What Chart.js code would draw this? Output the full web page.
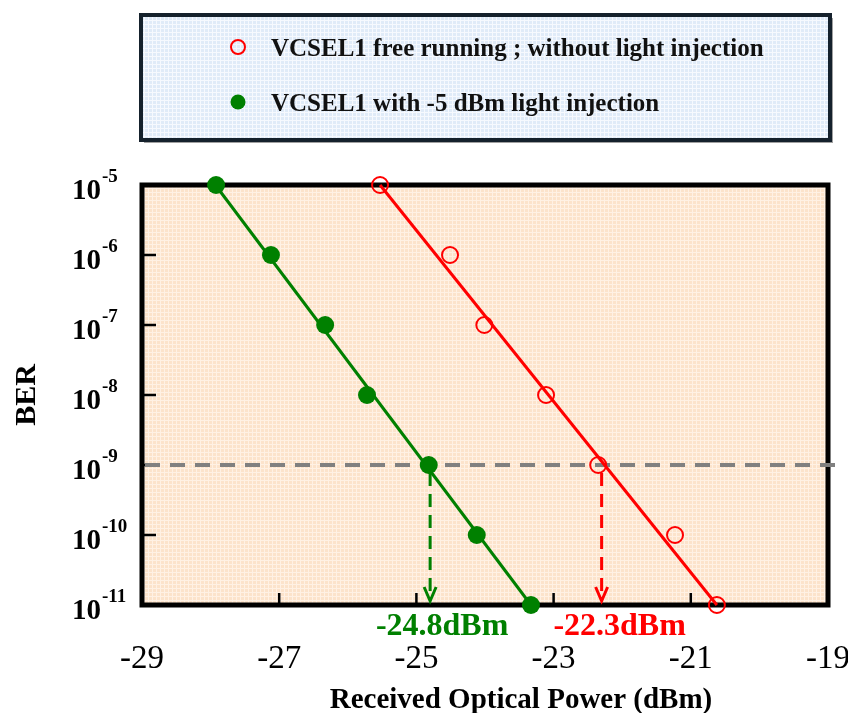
<!DOCTYPE html>
<html>
<head>
<meta charset="utf-8">
<script src="https://cdn.jsdelivr.net/npm/chart.js@4.4.1/dist/chart.umd.min.js"></script>
<style>
  html, body { margin: 0; padding: 0; background: #fff; }
</style>
</head>
<body>
<canvas id="berChart" width="848" height="713"></canvas>
<script>
// values
var legendLabels = ["VCSEL1 free running ; without light injection", "VCSEL1 with -5 dBm light injection"];
var berValues = [1e-5, 1e-6, 1e-7, 1e-8, 1e-9, 1e-10, 1e-11];
var freePower = [-25.53, -24.51, -24.01, -23.11, -22.35, -21.23, -20.62];
var injPower = [-27.92, -27.12, -26.33, -25.72, -24.82, -24.12, -23.33];
var fitBer = [1e-5, 1e-11];
var freeFit = [-25.53, -20.62];
var injFit = [-27.93, -23.33];
var xTicks = [-29, -27, -25, -23, -21, -19];
var yExponents = [-5, -6, -7, -8, -9, -10, -11];
var berLimit = 1e-9;
var sensitivity = [-24.8, -22.3];
var sensitivityLabels = ["-24.8dBm", "-22.3dBm"];

var GREEN = "#008000";
var RED = "#ff0000";
var SERIF = "'Liberation Serif', 'Times New Roman', serif";

function toPoints(xs, ys) {
	return xs.map(function(x, i) { return { x: x, y: ys[i] }; });
}

function makePattern(ctx, base, line) {
	var c = document.createElement("canvas");
	c.width = 4; c.height = 4;
	var p = c.getContext("2d");
	p.fillStyle = base;
	p.fillRect(0, 0, 4, 4);
	p.fillStyle = line;
	p.fillRect(0, 0, 4, 1);
	p.fillRect(0, 0, 1, 4);
	return ctx.createPattern(c, "repeat");
}

var decor = {
	id: "decor",
	beforeDraw: function(chart) {
		var ctx = chart.ctx, a = chart.chartArea;
		ctx.save();
		ctx.fillStyle = "#fff";
		ctx.fillRect(0, 0, chart.width, chart.height);

		// legend box
		ctx.fillStyle = "#a0a0a0";
		ctx.fillRect(144, 18, 689, 125);
		ctx.fillStyle = makePattern(ctx, "#e0ebf8", "#f6f9fe");
		ctx.fillRect(141, 15, 689, 125);
		ctx.strokeStyle = "#15212c";
		ctx.lineWidth = 4;
		ctx.strokeRect(141, 15, 689, 125);

		// plot background
		ctx.fillStyle = makePattern(ctx, "#fce3cb", "#fff1e4");
		ctx.fillRect(a.left, a.top, a.right - a.left, a.bottom - a.top);
		ctx.restore();
	},
	beforeDatasetsDraw: function(chart) {
		var ctx = chart.ctx, a = chart.chartArea;
		var xs = chart.scales.x, ys = chart.scales.y;
		ctx.save();

		// frame and inner ticks
		ctx.strokeStyle = "#000";
		ctx.lineWidth = 5;
		ctx.strokeRect(a.left, a.top, a.right - a.left, a.bottom - a.top);
		ctx.lineWidth = 2.5;
		ctx.beginPath();
		yExponents.slice(1, -1).forEach(function(e) {
			var y = ys.getPixelForValue(Math.pow(10, e));
			ctx.moveTo(a.left, y);
			ctx.lineTo(a.left + 14, y);
		});
		xTicks.slice(1, -1).forEach(function(v) {
			var x = xs.getPixelForValue(v);
			ctx.moveTo(x, a.bottom);
			ctx.lineTo(x, a.bottom - 12);
		});
		ctx.stroke();

		// BER limit
		var yl = ys.getPixelForValue(berLimit);
		ctx.strokeStyle = "#808080";
		ctx.lineWidth = 4;
		ctx.setLineDash([15, 10]);
		ctx.beginPath();
		ctx.moveTo(a.left + 3, yl);
		ctx.lineTo(838, yl);
		ctx.stroke();

		// sensitivity arrows
		[GREEN, RED].forEach(function(col, i) {
			var x = xs.getPixelForValue(sensitivity[i]);
			ctx.strokeStyle = col;
			ctx.lineWidth = 3;
			ctx.setLineDash([13, 8]);
			ctx.beginPath();
			ctx.moveTo(x, yl + 8);
			ctx.lineTo(x, a.bottom - 5);
			ctx.stroke();
			ctx.setLineDash([]);
			ctx.beginPath();
			ctx.moveTo(x - 6, a.bottom - 18);
			ctx.lineTo(x, a.bottom - 4);
			ctx.lineTo(x + 6, a.bottom - 18);
			ctx.stroke();
		});
		ctx.restore();
	},
	afterDraw: function(chart) {
		var ctx = chart.ctx, a = chart.chartArea;
		var xs = chart.scales.x, ys = chart.scales.y;
		ctx.save();
		ctx.fillStyle = "#000";
		ctx.textBaseline = "alphabetic";

		// y tick labels 10^n
		yExponents.forEach(function(e) {
			var y = ys.getPixelForValue(Math.pow(10, e));
			ctx.font = "bold 29px " + SERIF;
			ctx.textAlign = "left";
			ctx.fillText("10", 72, y + 14);
			var w = ctx.measureText("10").width;
			ctx.font = "bold 19px " + SERIF;
			ctx.fillText(String(e), 72 + w + 1, y - 3);
		});

		// x tick labels
		ctx.font = "33px " + SERIF;
		ctx.textAlign = "center";
		xTicks.forEach(function(v) {
			ctx.fillText(String(v), xs.getPixelForValue(v), 668);
		});

		// sensitivity labels
		ctx.font = "bold 32px " + SERIF;
		[GREEN, RED].forEach(function(col, i) {
			ctx.fillStyle = col;
			ctx.fillText(sensitivityLabels[i], xs.getPixelForValue(sensitivity[i]) + (i === 0 ? 12 : 18), 635);
		});

		// axis titles
		ctx.fillStyle = "#000";
		ctx.font = "bold 29px " + SERIF;
		ctx.fillText("Received Optical Power (dBm)", 521, 708);
		ctx.save();
		ctx.translate(35, (a.top + a.bottom) / 2);
		ctx.rotate(-Math.PI / 2);
		ctx.font = "bold 30px " + SERIF;
		ctx.fillText("BER", 0, 0);
		ctx.restore();

		// legend
		ctx.lineWidth = 2;
		ctx.strokeStyle = RED;
		ctx.beginPath();
		ctx.arc(238, 47, 7, 0, Math.PI * 2);
		ctx.stroke();
		ctx.fillStyle = GREEN;
		ctx.beginPath();
		ctx.arc(238, 102, 7.5, 0, Math.PI * 2);
		ctx.fill();
		ctx.fillStyle = "#111";
		ctx.font = "bold 25px " + SERIF;
		ctx.textAlign = "left";
		ctx.fillText(legendLabels[0], 271, 56);
		ctx.fillText(legendLabels[1], 271, 111);
		ctx.restore();
	}
};

var berChart = new Chart(document.getElementById("berChart"), {
	type: "scatter",
	data: {
		datasets: [
			{
				label: legendLabels[0],
				data: toPoints(freePower, berValues),
				showLine: false,
				pointRadius: 8,
				pointBorderWidth: 2,
				pointBorderColor: RED,
				pointBackgroundColor: "transparent",
				clip: false
			},
			{
				label: legendLabels[1],
				data: toPoints(injPower, berValues),
				showLine: false,
				pointRadius: 9,
				pointBorderWidth: 0,
				pointBackgroundColor: GREEN,
				pointBorderColor: GREEN,
				clip: false
			},
			{
				label: "free fit",
				data: toPoints(freeFit, fitBer),
				showLine: true,
				borderColor: RED,
				borderWidth: 3,
				pointRadius: 0,
				clip: false
			},
			{
				label: "injection fit",
				data: toPoints(injFit, fitBer),
				showLine: true,
				borderColor: GREEN,
				borderWidth: 3,
				pointRadius: 0,
				clip: false
			}
		]
	},
	options: {
		responsive: false,
		animation: false,
		layout: { padding: { left: 142, top: 185, right: 20, bottom: 108 } },
		plugins: {
			legend: { display: false },
			tooltip: { enabled: false }
		},
		scales: {
			x: { type: "linear", min: -29, max: -19, display: false },
			y: { type: "logarithmic", min: 1e-11, max: 1e-5, display: false }
		}
	},
	plugins: [decor]
});
</script>
</body>
</html>
